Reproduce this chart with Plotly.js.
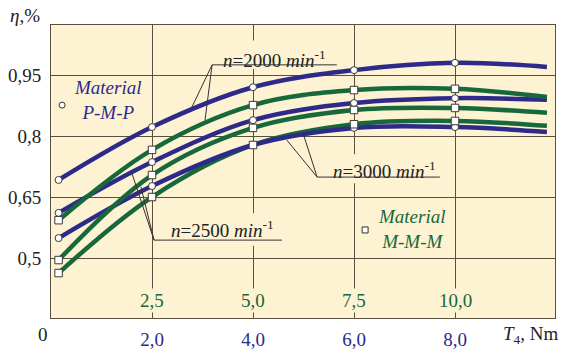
<!DOCTYPE html>
<html>
<head>
<meta charset="utf-8">
<script src="https://cdn.plot.ly/plotly-3.0.1.min.js"></script>
<style>html,body{margin:0;padding:0;background:#fff;}#chart{width:562px;height:349px;}</style>
</head>
<body>
<div id="chart"></div>
<script>
// torque T4 (Nm) at which efficiency was read
const torque = [0.15, 2, 4, 6, 8, 9.82];
// measured points (markers) are at the first five torque values
const markerCount = 5;
// Material P-M-P (blue, circles)
const etaPMP2000 = [0.692, 0.822, 0.920, 0.962, 0.980, 0.970];
const etaPMP2500 = [0.611, 0.736, 0.839, 0.881, 0.893, 0.889];
const etaPMP3000 = [0.549, 0.677, 0.778, 0.820, 0.822, 0.810];
// Material M-M-M (green, squares)
const etaMMM2000 = [0.593, 0.766, 0.876, 0.913, 0.916, 0.896];
const etaMMM2500 = [0.495, 0.704, 0.820, 0.864, 0.869, 0.857];
const etaMMM3000 = [0.463, 0.650, 0.778, 0.829, 0.837, 0.825];
// axis ticks
const yTickVals = [0.5, 0.65, 0.8, 0.95];
const yTickText = ["0,5", "0,65", "0,8", "0,95"];
const xTickVals = [2, 4, 6, 8];
const xTickText = ["2,0", "4,0", "6,0", "8,0"];
const xTickTextMMM = ["2,5", "5,0", "7,5", "10,0"];

const BLUE = '#2d2a8a';
const GREEN = '#17683a';
const BG = '#fdf2d2';
const GRID = '#5a5040';
const FONT = 'Liberation Serif';

const traces = [];
function addSeries(y, color) {
  traces.push({x: torque, y: y, mode: 'lines', type: 'scatter',
    line: {color: color, width: 4.5, shape: 'spline', smoothing: 1}, hoverinfo: 'skip', showlegend: false});
}
function addMarkers(y, symbol) {
  traces.push({x: torque.slice(0, markerCount), y: y.slice(0, markerCount), mode: 'markers', type: 'scatter',
    marker: {symbol: symbol, size: symbol === 'square' ? 7.5 : 7, color: '#ffffff', line: {color: '#3a3a3a', width: 1}},
    hoverinfo: 'skip', showlegend: false});
}
addSeries(etaMMM3000, GREEN); addSeries(etaPMP3000, BLUE);
addSeries(etaMMM2500, GREEN); addSeries(etaPMP2500, BLUE);
addSeries(etaMMM2000, GREEN); addSeries(etaPMP2000, BLUE);
[etaPMP2000, etaPMP2500, etaPMP3000].forEach(y => addMarkers(y, 'circle'));
[etaMMM2000, etaMMM2500, etaMMM3000].forEach(y => addMarkers(y, 'square'));

const annotations = [];
const shapes = [];
function ann(o) { annotations.push(Object.assign({showarrow: false, xanchor: 'center', yanchor: 'middle'}, o)); }
// green M-M-M scale labels inside the plot
xTickVals.forEach((v, i) => ann({x: v, xref: 'x', y: 0.061, yref: 'paper', text: xTickTextMMM[i],
  font: {family: FONT, size: 19, color: GREEN}, bgcolor: BG, borderpad: 1}));
// axis labels
ann({x: -0.016, xref: 'paper', y: -0.058, yref: 'paper', text: '0', font: {family: FONT, size: 19, color: '#222'}});
ann({x: 0.952, xref: 'paper', y: -0.058, yref: 'paper', text: '<i>T</i><sub>4</sub>, Nm', font: {family: FONT, size: 19, color: '#222'}});
ann({x: -0.052, xref: 'paper', y: 1.034, yref: 'paper', text: '<i>η</i>,%', font: {family: FONT, size: 19, color: '#222'}});
// material labels
ann({x: 1.12, y: 0.888, text: '<i>Material<br>P-M-P</i>', font: {family: FONT, size: 19, color: BLUE}});
ann({x: 7.15, y: 0.571, text: '<i>Material<br>M-M-M</i>', font: {family: FONT, size: 19, color: GREEN}});
shapes.push({type: 'circle', xref: 'x', yref: 'y', xsizemode: 'pixel', ysizemode: 'pixel', xanchor: 0.22, yanchor: 0.876,
  x0: -3, x1: 3, y0: -3, y1: 3, fillcolor: '#fff', line: {color: '#333', width: 1}});
shapes.push({type: 'rect', xref: 'x', yref: 'y', xsizemode: 'pixel', ysizemode: 'pixel', xanchor: 6.22, yanchor: 0.569,
  x0: -3, x1: 3, y0: -3, y1: 3, fillcolor: '#fff', line: {color: '#333', width: 1}});
// speed labels with underline and leader lines; a background patch hides the grid behind the text
function speedLabel(text, tx, ty, ux0, ux1, uy, patch, leaders) {
  shapes.push({type: 'rect', layer: 'between', x0: patch[0], x1: patch[1], y0: patch[2], y1: patch[3], fillcolor: BG, line: {width: 0}});
  ann({x: tx, y: ty, text: text, font: {family: FONT, size: 19, color: '#222'}});
  shapes.push({type: 'line', x0: ux0, x1: ux1, y0: uy, y1: uy, line: {color: '#333', width: 1}});
  leaders.forEach(p => shapes.push({type: 'line', x0: ux0, y0: uy, x1: p[0], y1: p[1], line: {color: '#333', width: 1}}));
}
speedLabel('<i>n</i>=2000 <i>min</i><sup>-1</sup>', 4.42, 0.99, 3.19, 5.66, 0.975, [3.6, 5.3, 0.965, 1.035], [[2.79, 0.871], [3.05, 0.839]]);
speedLabel('<i>n</i>=3000 <i>min</i><sup>-1</sup>', 6.6, 0.716, 5.27, 7.70, 0.699, [5.5, 7.6, 0.684, 0.755], [[4.67, 0.790], [4.99, 0.807]]);
speedLabel('<i>n</i>=2500 <i>min</i><sup>-1</sup>', 3.39, 0.571, 2.04, 4.57, 0.544, [2.5, 4.4, 0.53, 0.61], [[1.60, 0.709], [1.78, 0.675]]);

const layout = {
  width: 562, height: 349,
  margin: {l: 51, r: 7, t: 25, b: 31},
  paper_bgcolor: '#ffffff', plot_bgcolor: BG,
  showlegend: false,
  font: {family: FONT, size: 19, color: '#222'},
  xaxis: {range: [0, 9.98], tickvals: xTickVals, ticktext: xTickText, tickfont: {family: FONT, size: 19, color: BLUE},
    showgrid: true, gridcolor: GRID, gridwidth: 1, zeroline: false, showline: true, linecolor: GRID, linewidth: 1, mirror: true,
    ticks: '', ticklabelstandoff: 4, fixedrange: true},
  yaxis: {range: [0.3525, 1.073], tickvals: yTickVals, ticktext: yTickText, tickfont: {family: FONT, size: 19, color: '#222'},
    showgrid: true, gridcolor: GRID, gridwidth: 1, zeroline: false, showline: true, linecolor: GRID, linewidth: 1, mirror: true,
    ticks: '', ticklabelstandoff: 5, fixedrange: true},
  annotations: annotations,
  shapes: shapes
};
Plotly.newPlot('chart', traces, layout, {staticPlot: true, displayModeBar: false});
</script>
</body>
</html>
